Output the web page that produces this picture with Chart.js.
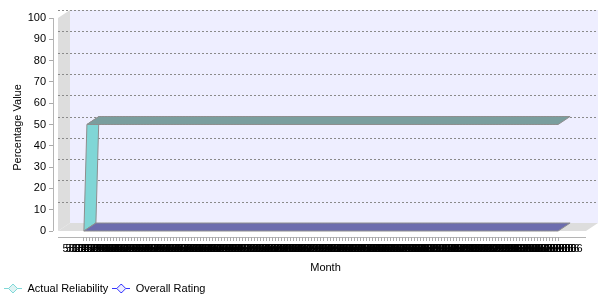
<!DOCTYPE html>
<html lang="en">
<head>
<meta charset="UTF-8" />
<title>Actual Reliability / Overall Rating</title>
<script src="https://cdn.jsdelivr.net/npm/chart.js@4.4.0/dist/chart.umd.min.js"></script>
<style>
  body { margin: 0; background: #fff; }
  #wrap { width: 610px; height: 300px; }
</style>
</head>
<body>
<div id="wrap"><canvas id="chart" width="610" height="300"></canvas></div>
<script>
const months = [
  "5/1/2006", "5/2/2006", "5/3/2006", "5/4/2006", "5/5/2006", "5/6/2006", "5/7/2006", "5/8/2006", "5/9/2006", "5/10/2006",
  "5/11/2006", "5/12/2006", "5/13/2006", "5/14/2006", "5/15/2006", "5/16/2006", "5/17/2006", "5/18/2006", "5/19/2006", "5/20/2006",
  "5/21/2006", "5/22/2006", "5/23/2006", "5/24/2006", "5/25/2006", "5/26/2006", "5/27/2006", "5/28/2006", "5/29/2006", "5/30/2006", "5/31/2006",
  "6/1/2006", "6/2/2006", "6/3/2006", "6/4/2006", "6/5/2006", "6/6/2006", "6/7/2006", "6/8/2006", "6/9/2006", "6/10/2006",
  "6/11/2006", "6/12/2006", "6/13/2006", "6/14/2006", "6/15/2006", "6/16/2006", "6/17/2006", "6/18/2006", "6/19/2006", "6/20/2006",
  "6/21/2006", "6/22/2006", "6/23/2006", "6/24/2006", "6/25/2006", "6/26/2006", "6/27/2006", "6/28/2006", "6/29/2006", "6/30/2006",
  "7/1/2006", "7/2/2006", "7/3/2006", "7/4/2006", "7/5/2006", "7/6/2006", "7/7/2006", "7/8/2006", "7/9/2006", "7/10/2006",
  "7/11/2006", "7/12/2006", "7/13/2006", "7/14/2006", "7/15/2006", "7/16/2006", "7/17/2006", "7/18/2006", "7/19/2006", "7/20/2006",
  "7/21/2006", "7/22/2006", "7/23/2006", "7/24/2006", "7/25/2006", "7/26/2006", "7/27/2006", "7/28/2006", "7/29/2006", "7/30/2006", "7/31/2006",
  "8/1/2006", "8/2/2006", "8/3/2006", "8/4/2006", "8/5/2006", "8/6/2006", "8/7/2006", "8/8/2006", "8/9/2006", "8/10/2006",
  "8/11/2006", "8/12/2006", "8/13/2006", "8/14/2006", "8/15/2006", "8/16/2006", "8/17/2006", "8/18/2006", "8/19/2006", "8/20/2006",
  "8/21/2006", "8/22/2006", "8/23/2006", "8/24/2006", "8/25/2006", "8/26/2006", "8/27/2006", "8/28/2006", "8/29/2006", "8/30/2006", "8/31/2006",
  "9/1/2006", "9/2/2006", "9/3/2006", "9/4/2006", "9/5/2006", "9/6/2006", "9/7/2006", "9/8/2006", "9/9/2006", "9/10/2006",
  "9/11/2006", "9/12/2006", "9/13/2006", "9/14/2006", "9/15/2006", "9/16/2006", "9/17/2006", "9/18/2006", "9/19/2006", "9/20/2006",
  "9/21/2006", "9/22/2006", "9/23/2006", "9/24/2006", "9/25/2006", "9/26/2006", "9/27/2006", "9/28/2006", "9/29/2006", "9/30/2006",
  "10/1/2006", "10/2/2006", "10/3/2006", "10/4/2006", "10/5/2006", "10/6/2006"
];

const actualReliability = [
  0, 50, 50, 50, 50, 50, 50, 50, 50, 50, 50, 50, 50, 50, 50, 50, 50, 50, 50, 50,
  50, 50, 50, 50, 50, 50, 50, 50, 50, 50, 50, 50, 50, 50, 50, 50, 50, 50, 50, 50,
  50, 50, 50, 50, 50, 50, 50, 50, 50, 50, 50, 50, 50, 50, 50, 50, 50, 50, 50, 50,
  50, 50, 50, 50, 50, 50, 50, 50, 50, 50, 50, 50, 50, 50, 50, 50, 50, 50, 50, 50,
  50, 50, 50, 50, 50, 50, 50, 50, 50, 50, 50, 50, 50, 50, 50, 50, 50, 50, 50, 50,
  50, 50, 50, 50, 50, 50, 50, 50, 50, 50, 50, 50, 50, 50, 50, 50, 50, 50, 50, 50,
  50, 50, 50, 50, 50, 50, 50, 50, 50, 50, 50, 50, 50, 50, 50, 50, 50, 50, 50, 50,
  50, 50, 50, 50, 50, 50, 50, 50, 50, 50, 50, 50, 50, 50, 50, 50, 50, 50, 50
];

const overallRating = [
  0, 0, 0, 0, 0, 0, 0, 0, 0, 0, 0, 0, 0, 0, 0, 0, 0, 0, 0, 0,
  0, 0, 0, 0, 0, 0, 0, 0, 0, 0, 0, 0, 0, 0, 0, 0, 0, 0, 0, 0,
  0, 0, 0, 0, 0, 0, 0, 0, 0, 0, 0, 0, 0, 0, 0, 0, 0, 0, 0, 0,
  0, 0, 0, 0, 0, 0, 0, 0, 0, 0, 0, 0, 0, 0, 0, 0, 0, 0, 0, 0,
  0, 0, 0, 0, 0, 0, 0, 0, 0, 0, 0, 0, 0, 0, 0, 0, 0, 0, 0, 0,
  0, 0, 0, 0, 0, 0, 0, 0, 0, 0, 0, 0, 0, 0, 0, 0, 0, 0, 0, 0,
  0, 0, 0, 0, 0, 0, 0, 0, 0, 0, 0, 0, 0, 0, 0, 0, 0, 0, 0, 0,
  0, 0, 0, 0, 0, 0, 0, 0, 0, 0, 0, 0, 0, 0, 0, 0, 0, 0, 0
];

const yTicks = [0, 10, 20, 30, 40, 50, 60, 70, 80, 90, 100];

// 3d depth of the plot, in pixels
const DX = 12, DY = 8;

// legend symbol: a short line with a hollow diamond on it
function legendMarker(stroke, fill) {
  const c = document.createElement("canvas");
  c.width = 18; c.height = 11;
  const g = c.getContext("2d");
  g.strokeStyle = stroke;
  g.lineWidth = 1;
  g.beginPath(); g.moveTo(0, 5.5); g.lineTo(18, 5.5); g.stroke();
  g.beginPath();
  g.moveTo(9, 1); g.lineTo(13.5, 5.5); g.lineTo(9, 10); g.lineTo(4.5, 5.5);
  g.closePath();
  g.fillStyle = fill; g.fill(); g.stroke();
  return c;
}

function polygon(ctx, pts) {
  ctx.beginPath();
  pts.forEach(([x, y], i) => (i ? ctx.lineTo(x, y) : ctx.moveTo(x, y)));
  ctx.closePath();
}

const walls3d = {
  id: "walls3d",
  beforeDraw(chart) {
    const { ctx, chartArea: ca, scales: { y } } = chart;
    const left = ca.left + 5;
    const top = y.getPixelForValue(100);
    const bottom = y.getPixelForValue(0);
    ctx.save();
    ctx.fillStyle = "#eeeeff";
    ctx.fillRect(left + DX, top - DY, ca.right - left - DX, bottom - top);
    ctx.fillStyle = "#dddddd";
    polygon(ctx, [[left, top], [left + DX, top - DY], [left + DX, bottom - DY], [left, bottom]]);
    ctx.fill();
    polygon(ctx, [[left, bottom], [left + DX, bottom - DY], [ca.right, bottom - DY], [ca.right - DX, bottom]]);
    ctx.fill();

    ctx.strokeStyle = "#8a8a8a";
    ctx.lineWidth = 1;
    ctx.setLineDash([2, 2]);
    yTicks.filter(v => v > 0).forEach(v => {
      const py = Math.round(y.getPixelForValue(v) - DY) + 0.5;
      ctx.beginPath(); ctx.moveTo(left, py); ctx.lineTo(ca.right, py); ctx.stroke();
    });
    ctx.setLineDash([]);

    ctx.strokeStyle = "#b4b4b4";
    ctx.beginPath();
    ctx.moveTo(ca.left + 0.5, top); ctx.lineTo(ca.left + 0.5, bottom);
    ctx.moveTo(left, ca.bottom + 0.5); ctx.lineTo(ca.right - DX, ca.bottom + 0.5);
    ctx.stroke();
    ctx.restore();
  }
};

const faceColors = ["#80d6d6", "#7878c4"];
const topColors = ["#7a9e9e", "#6c6cae"];

const ribbons3d = {
  id: "ribbons3d",
  afterDatasetsDraw(chart) {
    const ctx = chart.ctx;
    ctx.save();
    ctx.lineWidth = 1;
    ctx.strokeStyle = "#8e8e8e";
    chart.data.datasets.forEach((ds, d) => {
      const pts = chart.getDatasetMeta(d).data;
      const kind = i => Math.sign(Math.round(pts[i + 1].y - pts[i].y));
      let a = 0;
      while (a < pts.length - 1) {
        const k = kind(a);
        let b = a + 1;
        while (b < pts.length - 1 && kind(b) === k) b++;
        const ring = [];
        for (let i = a; i <= b; i++) ring.push([pts[i].x, pts[i].y]);
        for (let i = b; i >= a; i--) ring.push([pts[i].x + DX, pts[i].y - DY]);
        polygon(ctx, ring);
        ctx.fillStyle = k === 0 ? topColors[d] : faceColors[d];
        ctx.fill();
        ctx.stroke();
        a = b;
      }
    });
    ctx.restore();
  }
};

Chart.defaults.font.family = "'Liberation Sans', Arial, sans-serif";
Chart.defaults.font.size = 11;
Chart.defaults.color = "#000";

new Chart(document.getElementById("chart"), {
  type: "line",
  data: {
    datasets: [
      {
        label: "Actual Reliability",
        data: actualReliability.map((v, i) => ({ x: i, y: v })),
        showLine: false,
        pointRadius: 0,
        pointHoverRadius: 0,
        borderColor: "#80d8d8",
        backgroundColor: "#80d8d8",
        pointStyle: legendMarker("#80d8d8", "#dff3f3")
      },
      {
        label: "Overall Rating",
        data: overallRating.map((v, i) => ({ x: i, y: v })),
        showLine: false,
        pointRadius: 0,
        pointHoverRadius: 0,
        borderColor: "#3333ff",
        backgroundColor: "#3333ff",
        pointStyle: legendMarker("#3333ff", "#eeeeff")
      }
    ]
  },
  options: {
    responsive: false,
    animation: false,
    devicePixelRatio: 1,
    events: [],
    layout: { padding: { left: 0, right: 12, top: 18, bottom: -4 } },
    plugins: {
      tooltip: { enabled: false },
      legend: {
        position: "bottom",
        align: "start",
        labels: { usePointStyle: true, pointStyleWidth: 18, padding: 4, color: "#000" }
      }
    },
    scales: {
      x: {
        type: "linear",
        min: -10.3,
        max: months.length - 1 + 13.3,
        afterBuildTicks: s => { s.ticks = months.map((m, i) => ({ value: i })); },
        afterFit: s => { s.height = 42; s.paddingLeft = 0; s.paddingRight = 0; },
        grid: { drawOnChartArea: false, drawTicks: true, tickLength: 4, tickColor: "#aaaaaa" },
        border: { display: false },
        ticks: {
          autoSkip: false,
          maxRotation: 0,
          minRotation: 0,
          padding: 1,
          callback: v => months[v]
        },
        title: { display: true, text: "Month", padding: { top: 0, bottom: 4 } }
      },
      y: {
        min: -600 / 213,
        max: 100,
        afterBuildTicks: s => { s.ticks = yTicks.map(v => ({ value: v })); },
        afterFit: s => { s.width = 53; s.paddingTop = 0; s.paddingBottom = 0; },
        grid: { drawOnChartArea: false, drawTicks: true, tickLength: 4, tickColor: "#aaaaaa" },
        border: { display: false },
        ticks: { padding: 3 },
        title: { display: true, text: "Percentage Value", padding: { top: 11, bottom: 0 } }
      }
    }
  },
  plugins: [walls3d, ribbons3d]
});
</script>
</body>
</html>
